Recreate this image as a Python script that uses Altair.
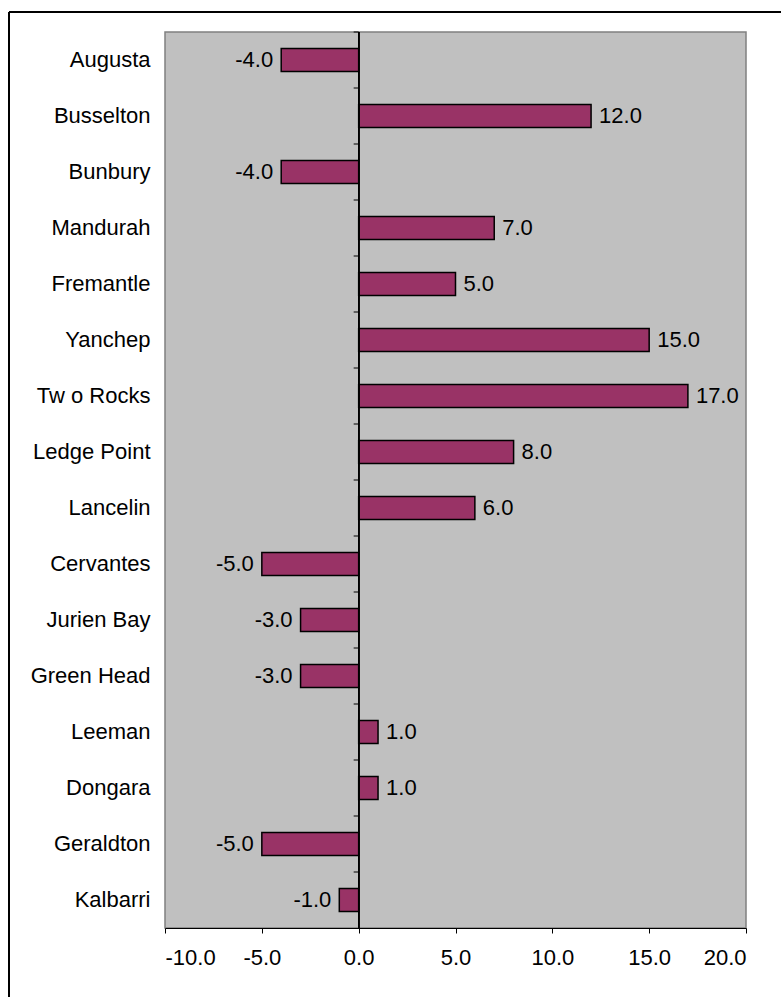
import altair as alt
import pandas as pd

towns = ["Augusta", "Busselton", "Bunbury", "Mandurah", "Fremantle", "Yanchep",
         "Tw o Rocks", "Ledge Point", "Lancelin", "Cervantes", "Jurien Bay",
         "Green Head", "Leeman", "Dongara", "Geraldton", "Kalbarri"]
values = [-4.0, 12.0, -4.0, 7.0, 5.0, 15.0, 17.0, 8.0, 6.0, -5.0, -3.0, -3.0,
          1.0, 1.0, -5.0, -1.0]
x_ticks = [-10, -5, 0, 5, 10, 15, 20]

df = pd.DataFrame({"town": towns, "value": values})
df["label"] = [f"{v:.1f}" for v in values]

FONT = "Liberation Sans"
FS = 22

y_enc = alt.Y("town:N", sort=towns, title=None,
              scale=alt.Scale(paddingInner=0, paddingOuter=0),
              axis=alt.Axis(domain=False, ticks=False, labelPadding=15,
                            labelFontSize=FS, labelFont=FONT, labelColor="black"))
x_enc = alt.X("value:Q", title=None,
              scale=alt.Scale(domain=[-10, 20], nice=False, zero=False),
              axis=alt.Axis(values=x_ticks, grid=False, domainColor="black",
                            tickColor="black", tickSize=5, labelPadding=14,
                            labelExpr="datum.value < 0 ? '-' + format(-datum.value, '.1f') : format(datum.value, '.1f')",
                            labelFontSize=FS, labelFont=FONT, labelColor="black"))

base = alt.Chart(df)

bars = base.mark_bar(size=23, color="#993366", stroke="black", strokeWidth=1.5).encode(
    x=x_enc, y=y_enc)

zero = base.mark_rule(color="black", strokeWidth=1).encode(
    x=alt.datum(0), y=alt.value(0), y2=alt.value(896))

ticks = base.mark_rule(color="black", strokeWidth=1, xOffset=-5, x2Offset=0, yOffset=-28).encode(
    x=alt.datum(0), x2=alt.datum(0), y=alt.Y("town:N", sort=towns))

pos_text = base.transform_filter("datum.value >= 0").mark_text(
    align="left", baseline="middle", dx=8, fontSize=FS, font=FONT, color="black").encode(
    x="value:Q", y=alt.Y("town:N", sort=towns), text="label:N")

neg_text = base.transform_filter("datum.value < 0").mark_text(
    align="right", baseline="middle", dx=-8, fontSize=FS, font=FONT, color="black").encode(
    x="value:Q", y=alt.Y("town:N", sort=towns), text="label:N")

frame_top = base.mark_rule(color="black", strokeWidth=1.5).encode(
    x=alt.value(-156), x2=alt.value(640), y=alt.value(-20))
frame_left = base.mark_rule(color="black", strokeWidth=1.5).encode(
    x=alt.value(-156), y=alt.value(-20), y2=alt.value(1000))

chart = alt.layer(bars, zero, ticks, pos_text, neg_text, frame_top, frame_left).properties(
    width=581, height=896,
    autosize=alt.AutoSizeParams(type="none"),
    padding={"left": 165, "top": 32, "right": 35, "bottom": 69},
    background="white",
).configure_view(fill="#C0C0C0", stroke="#808080", strokeWidth=1.5)

chart.save("out.html", embed_options={"renderer": "svg", "actions": False})
